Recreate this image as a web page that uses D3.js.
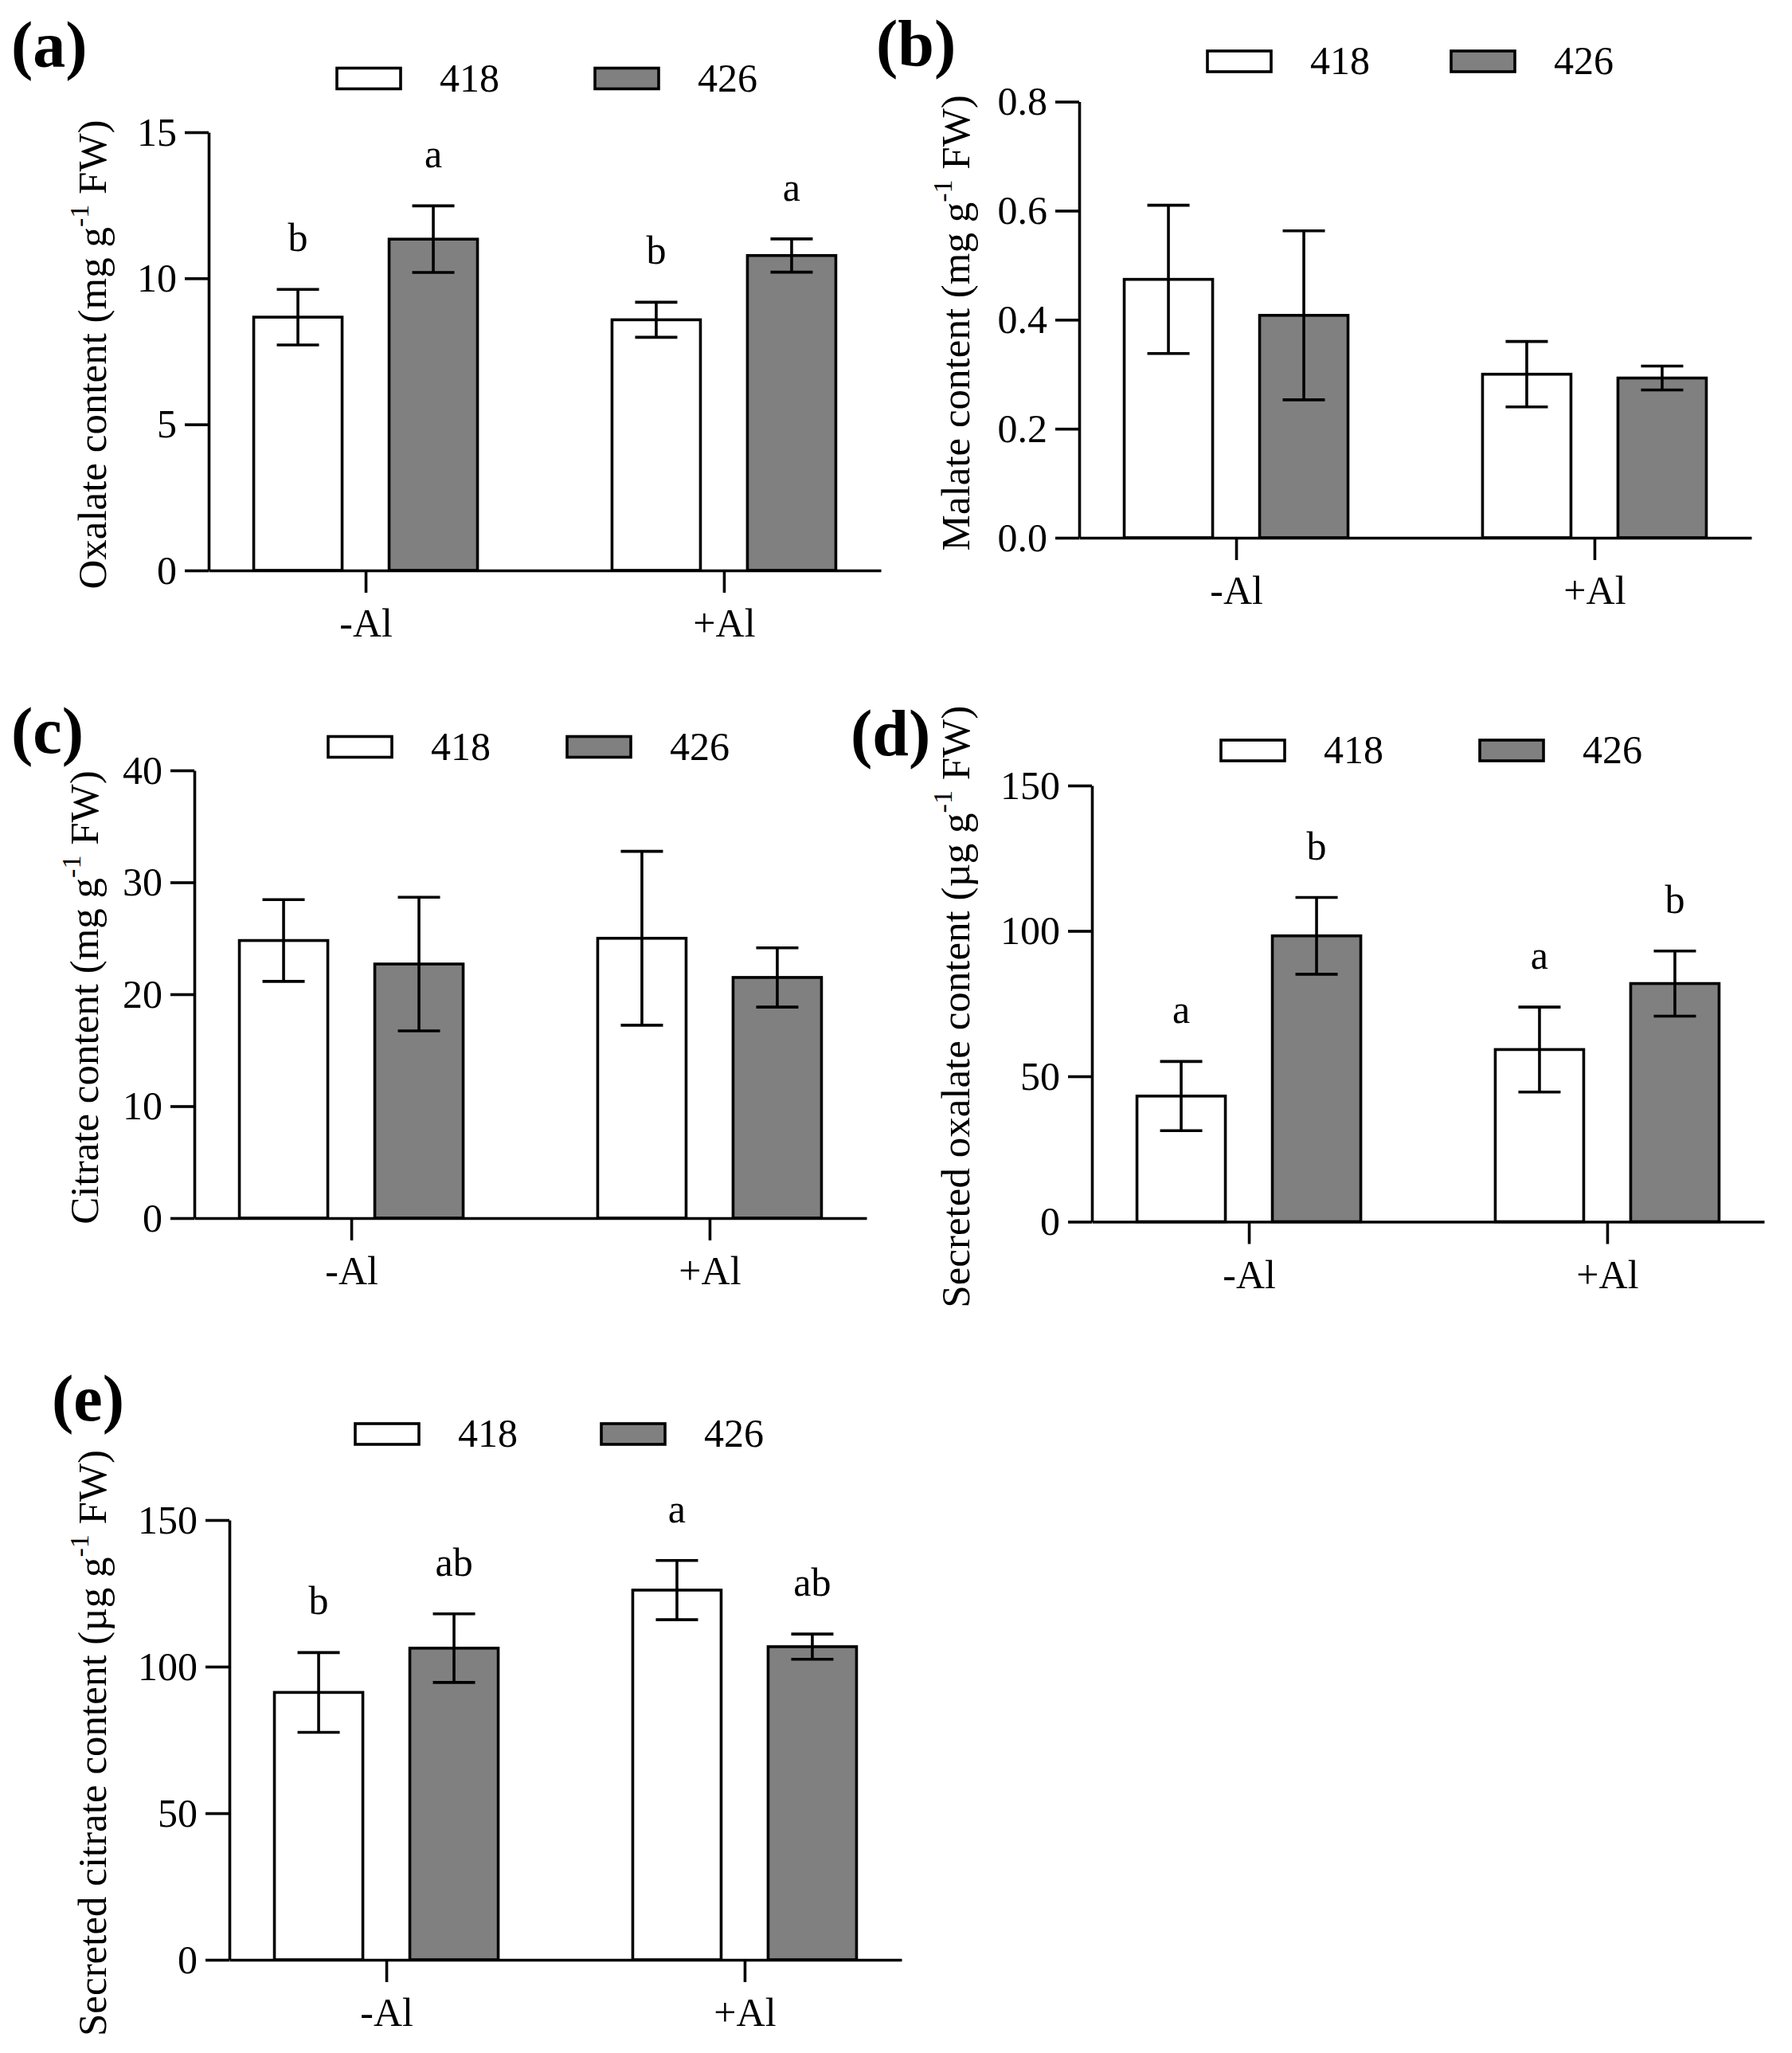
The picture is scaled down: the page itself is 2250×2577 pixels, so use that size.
<!DOCTYPE html>
<html>
<head>
<meta charset="utf-8">
<script src="https://cdn.jsdelivr.net/npm/d3@7"></script>
<style>
  body { margin: 0; background: #fff; }
  text { font-family: "Liberation Serif", "Times New Roman", serif; fill: #000; }
</style>
</head>
<body>
<svg id="chart" width="2250" height="2577"></svg>
<script>
// categories and series
var categories = ['-Al', '+Al']
var series = ['418', '426']
var seriesFill = ['#ffffff', '#808080']

// (a) oxalate content, mg g-1 FW  [series][category]
var oxalateMean = [[8.67, 8.58], [11.34, 10.78]]
var oxalateErr = [[0.95, 0.60], [1.14, 0.57]]
var oxalateLetters = [['b', 'b'], ['a', 'a']]
var oxalateTicks = [0, 5, 10, 15]

// (b) malate content
var malateMean = [[0.474, 0.300], [0.408, 0.293]]
var malateErr = [[0.136, 0.060], [0.155, 0.022]]
var malateTicks = [0, 0.2, 0.4, 0.6, 0.8]

// (c) citrate content
var citrateMean = [[24.8, 25.0], [22.7, 21.5]]
var citrateErr = [[3.65, 7.77], [5.97, 2.65]]
var citrateTicks = [0, 10, 20, 30, 40]

// (d) secreted oxalate, ug g-1 FW
var secOxalateMean = [[43.2, 59.2], [98.3, 81.9]]
var secOxalateErr = [[11.9, 14.6], [13.2, 11.2]]
var secOxalateLetters = [['a', 'a'], ['b', 'b']]
var secOxalateTicks = [0, 50, 100, 150]

// (e) secreted citrate
var secCitrateMean = [[91.2, 126.1], [106.3, 106.8]]
var secCitrateErr = [[13.6, 10.1], [11.7, 4.3]]
var secCitrateLetters = [['b', 'a'], ['ab', 'ab']]
var secCitrateTicks = [0, 50, 100, 150]

var svg = d3.select('#chart')
var axisLen = 844
var lw = 3.6

var panels = [
  { tag: '(a)', tagX: 14, tagY: 84, left: 262, top: 166, bottom: 716,
    mean: oxalateMean, err: oxalateErr, letters: oxalateLetters, ticks: oxalateTicks, fmt: d3.format('d'),
    ylab: ['Oxalate content (mg g', ' FW)'], ylabX: 133,
    legY: 98.5, legX: [423, 747] },
  { tag: '(b)', tagX: 1100, tagY: 82, left: 1355, top: 127.6, bottom: 675,
    mean: malateMean, err: malateErr, letters: null, ticks: malateTicks, fmt: d3.format('.1f'),
    ylab: ['Malate content (mg g', ' FW)'], ylabX: 1217,
    legY: 77, legX: [1516, 1822] },
  { tag: '(c)', tagX: 14, tagY: 945, left: 244, top: 967, bottom: 1529,
    mean: citrateMean, err: citrateErr, letters: null, ticks: citrateTicks, fmt: d3.format('d'),
    ylab: ['Citrate content (mg g', ' FW)'], ylabX: 123,
    legY: 937.5, legX: [412, 712] },
  { tag: '(d)', tagX: 1068, tagY: 948, left: 1371, top: 986, bottom: 1533.5,
    mean: secOxalateMean, err: secOxalateErr, letters: secOxalateLetters, ticks: secOxalateTicks, fmt: d3.format('d'),
    ylab: ['Secreted oxalate content (\u00b5g g', ' FW)'], ylabX: 1217,
    legY: 942, legX: [1533, 1858] },
  { tag: '(e)', tagX: 65, tagY: 1783, left: 288, top: 1908, bottom: 2460,
    mean: secCitrateMean, err: secCitrateErr, letters: secCitrateLetters, ticks: secCitrateTicks, fmt: d3.format('d'),
    ylab: ['Secreted citrate content (\u00b5g g', ' FW)'], ylabX: 133,
    legY: 1800, legX: [446, 755] }
]

function drawPanel(p) {
  var g = svg.append('g')

  var y = d3.scaleLinear()
            .domain([0, d3.max(p.ticks)])
            .range([p.bottom, p.top])
  var x = d3.scalePoint()
            .domain(categories)
            .range([p.left, p.left + axisLen])
            .padding(0.438)
  var xs = d3.scaleBand()
             .domain(series)
             .range([-140.5, 140.5])
             .paddingInner(0.347)

  var rows = []
  series.forEach(function (s, si) {
    categories.forEach(function (c, ci) {
      rows.push({ s: s, si: si, c: c, mean: p.mean[si][ci], err: p.err[si][ci],
                  letter: p.letters ? p.letters[si][ci] : null })
    })
  })

  // bars
  g.selectAll('.bar')
   .data(rows)
   .enter()
   .append('rect')
   .attr('class', 'bar')
   .attr('x', d => x(d.c) + xs(d.s))
   .attr('y', d => y(d.mean))
   .attr('width', xs.bandwidth())
   .attr('height', d => y(0) - y(d.mean))
   .attr('fill', d => seriesFill[d.si])
   .attr('stroke', '#000')
   .attr('stroke-width', lw)

  // error bars
  var eb = g.selectAll('.err')
            .data(rows)
            .enter()
            .append('g')
            .attr('class', 'err')
            .attr('stroke', '#000')
            .attr('stroke-width', lw)
  var cx = d => x(d.c) + xs(d.s) + xs.bandwidth() / 2
  eb.append('line')
    .attr('x1', cx).attr('x2', cx)
    .attr('y1', d => y(d.mean + d.err)).attr('y2', d => y(d.mean - d.err))
  eb.append('line')
    .attr('x1', d => cx(d) - 26.5).attr('x2', d => cx(d) + 26.5)
    .attr('y1', d => y(d.mean + d.err)).attr('y2', d => y(d.mean + d.err))
  eb.append('line')
    .attr('x1', d => cx(d) - 26.5).attr('x2', d => cx(d) + 26.5)
    .attr('y1', d => y(d.mean - d.err)).attr('y2', d => y(d.mean - d.err))

  // significance letters
  if (p.letters) {
    g.selectAll('.letter')
     .data(rows)
     .enter()
     .append('text')
     .attr('class', 'letter')
     .attr('x', cx)
     .attr('y', d => y(d.mean + d.err) - 48)
     .attr('text-anchor', 'middle')
     .attr('font-size', 50)
     .text(d => d.letter)
  }

  // y axis
  var ya = g.append('g')
            .attr('transform', `translate(${p.left},0)`)
            .call(d3.axisLeft(y).tickValues(p.ticks).tickFormat(p.fmt)
                    .tickSize(30).tickSizeOuter(0).tickPadding(10))
  ya.selectAll('path, line').attr('stroke', '#000').attr('stroke-width', lw)
  ya.selectAll('text').attr('font-size', 50).attr('font-family', '"Liberation Serif", serif')

  // x axis
  var xa = g.append('g')
            .attr('transform', `translate(0,${p.bottom})`)
            .call(d3.axisBottom(x).tickSize(28).tickSizeOuter(0).tickPadding(19.5))
  xa.selectAll('path, line').attr('stroke', '#000').attr('stroke-width', lw)
  xa.selectAll('text').attr('font-size', 50).attr('font-family', '"Liberation Serif", serif')

  // y axis title with superscript
  var yl = g.append('text')
            .attr('transform', `translate(${p.ylabX},${(p.top + p.bottom) / 2 + 4}) rotate(-90)`)
            .attr('text-anchor', 'middle')
            .attr('font-size', 51)
  yl.append('tspan').text(p.ylab[0])
  yl.append('tspan').attr('font-size', 34).attr('dy', -22).text('-1')
  yl.append('tspan').attr('dy', 22).text(p.ylab[1])

  // legend
  series.forEach(function (s, si) {
    g.append('rect')
     .attr('x', p.legX[si]).attr('y', p.legY - 13)
     .attr('width', 80).attr('height', 26)
     .attr('fill', seriesFill[si])
     .attr('stroke', '#000').attr('stroke-width', lw)
    g.append('text')
     .attr('x', p.legX[si] + 129).attr('y', p.legY + 16)
     .attr('font-size', 50)
     .text(s)
  })

  // panel tag
  g.append('text')
   .attr('x', p.tagX).attr('y', p.tagY)
   .attr('font-size', 82).attr('font-weight', 'bold')
   .text(p.tag)
}

panels.forEach(drawPanel)
</script>
</body>
</html>
